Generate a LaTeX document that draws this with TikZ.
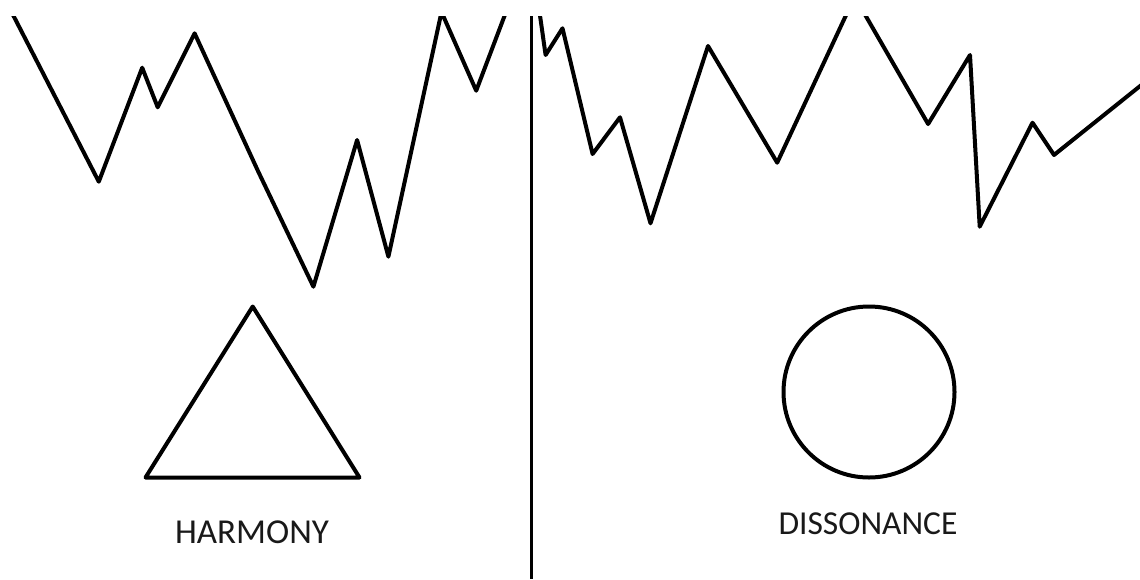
\documentclass[tikz,border=0pt]{standalone}
\usepackage{fontspec}
\setmainfont{Carlito}
\begin{document}
\begin{tikzpicture}[x=1pt,y=-1pt,
  stroke/.style={line width=4pt,line join=round,black},
  label/.style={inner sep=0pt,anchor=base,text=black!90}]
\useasboundingbox[fill=white] (0,0) rectangle (1140,579);
\begin{scope}
\clip (0,16) rectangle (1140,579);
% left zigzag
\draw[stroke] (10,9) -- (98.8,181.7) -- (142.2,67.7) -- (157.7,107.3) -- (194.6,33.3)
  -- (258.3,171.7) -- (313.4,286.7) -- (357.1,140) -- (388.4,256.7) -- (441.5,12)
  -- (476.2,90.7) -- (506,12);
% right zigzag, first piece
\draw[stroke] (539.5,12) -- (545.6,55) -- (562.5,28.3) -- (592.6,154) -- (620,117.3)
  -- (650.5,223.3) -- (708,46) -- (777.2,162.7) -- (847.5,12);
% right zigzag, second piece
\draw[stroke] (863.5,12) -- (928.1,124) -- (970,55) -- (979.7,226.7) -- (1032.5,122.7)
  -- (1054,155) -- (1142,84.5);
\end{scope}
% divider
\draw[line width=3pt,black] (531.3,16) -- (531.3,579);
% triangle
\draw[stroke] (252.7,306.5) -- (359.5,477.5) -- (145.5,477.5) -- cycle;
% circle
\draw[stroke] (869,392) circle (85.5);
% labels
\node[label,font=\fontsize{35}{40}\selectfont] (harmony) at (252,543) {HARMONY};
\node[label,font=\fontsize{33.5}{40}\selectfont] (dissonance) at (868,534) {DISSONANCE};
\end{tikzpicture}
\end{document}
